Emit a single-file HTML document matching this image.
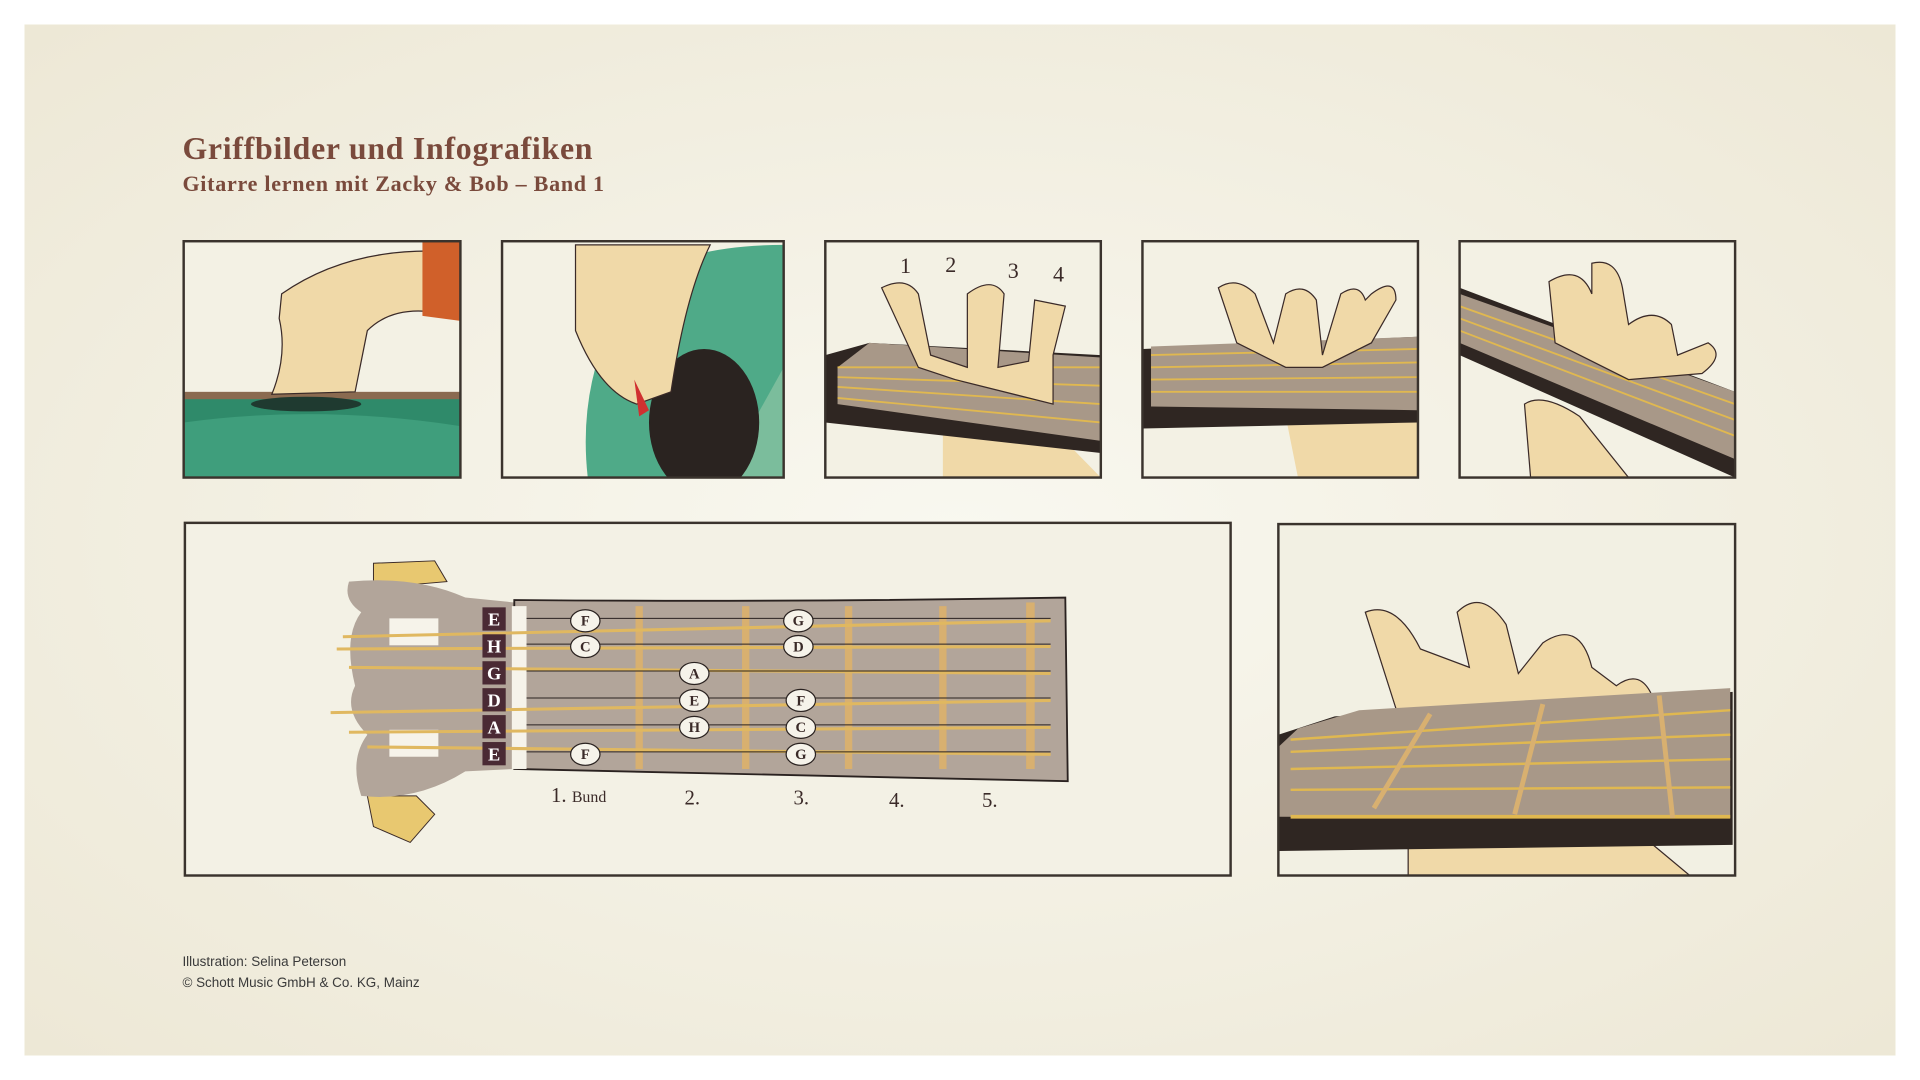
<!DOCTYPE html>
<html><head><meta charset="utf-8"><style>
html,body{margin:0;padding:0;width:1920px;height:1080px;background:#fff;overflow:hidden}
svg{display:block}
.t{font-family:"Liberation Serif",serif;fill:#7a4a3c}
.n{font-family:"Liberation Serif",serif;fill:#3a2a28;font-size:12px;text-anchor:middle;font-weight:bold}
.c{font-family:"Liberation Sans",sans-serif;fill:#3a3a3a;font-size:11px}
</style></head><body>
<svg width="1920" height="1080" viewBox="0 0 1568 882" xmlns="http://www.w3.org/2000/svg">
<defs>
<radialGradient id="bg" cx="0.5" cy="0.5" r="0.7">
<stop offset="0" stop-color="#f9f8f0"/><stop offset="1" stop-color="#ede8d6"/></radialGradient>
<clipPath id="p1"><rect x="150" y="197" width="226" height="193"/></clipPath>
<clipPath id="p2"><rect x="410" y="197" width="230" height="193"/></clipPath>
<clipPath id="p3"><rect x="674" y="197" width="225" height="193"/></clipPath>
<clipPath id="p4"><rect x="933" y="197" width="225" height="193"/></clipPath>
<clipPath id="p5"><rect x="1192" y="197" width="225" height="193"/></clipPath>
<clipPath id="p7"><rect x="1044" y="428" width="373" height="287"/></clipPath>
</defs>
<rect x="20" y="20" width="1528" height="842" fill="url(#bg)"/>
<text class="t" x="149" y="130" font-size="26" font-weight="bold" letter-spacing="0.6">Griffbilder und Infografiken</text>
<text class="t" x="149" y="156" font-size="18" font-weight="bold" letter-spacing="0.6">Gitarre lernen mit Zacky &amp; Bob – Band 1</text>

<!-- panel 1 -->
<g clip-path="url(#p1)">
<rect x="150" y="197" width="226" height="193" fill="#f3f1e4"/>
<path d="M150 322 L376 322 L376 390 L150 390Z" fill="#2f8a6a"/>
<path d="M150 345 Q260 330 376 348 L376 390 L150 390Z" fill="#3f9e7c"/>
<rect x="150" y="320" width="226" height="6" fill="#8a6a50"/>
<ellipse cx="250" cy="330" rx="45" ry="6" fill="#1f3a30"/>
<path d="M230 240 Q280 205 350 205 L355 255 Q320 250 300 270 L290 320 L222 322 Q235 290 228 260Z" fill="#f0d9a8" stroke="#3a2a28" stroke-width="1"/>
<path d="M345 197 L376 197 L376 262 L345 258Z" fill="#d0602a"/>
</g>
<rect x="150" y="197" width="226" height="193" fill="none" stroke="#3a332d" stroke-width="2"/>

<!-- panel 2 -->
<g clip-path="url(#p2)">
<rect x="410" y="197" width="230" height="193" fill="#f3f1e4"/>
<path d="M480 390 Q470 300 520 230 Q560 200 640 200 L640 390Z" fill="#4faa88"/>
<path d="M590 390 L640 300 L640 390Z" fill="#7bbd9c"/>
<ellipse cx="575" cy="345" rx="45" ry="60" fill="#2a2320"/>
<path d="M470 200 L580 200 Q560 240 548 320 L520 330 Q490 320 470 270Z" fill="#f0d9a8" stroke="#3a2a28" stroke-width="1"/>
<path d="M518 310 L530 335 L522 340Z" fill="#d03030"/>
</g>
<rect x="410" y="197" width="230" height="193" fill="none" stroke="#3a332d" stroke-width="2"/>

<!-- panel 3 -->
<g clip-path="url(#p3)">
<rect x="674" y="197" width="225" height="193" fill="#f3f1e4"/>
<path d="M770 340 Q800 330 860 350 L899 390 L770 390Z" fill="#f0d9a8"/>
<path d="M674 290 L710 280 L899 290 L899 370 L674 345Z" fill="#2f2622"/>
<path d="M684 300 L710 280 L899 292 L899 360 L684 330Z" fill="#a89888"/>
<g stroke="#e0b850" stroke-width="1.5"><line x1="684" y1="300" x2="899" y2="300"/><line x1="684" y1="308" x2="899" y2="315"/><line x1="684" y1="316" x2="899" y2="330"/><line x1="684" y1="325" x2="899" y2="345"/></g>
<path d="M720 235 Q740 225 750 240 L760 290 L790 300 L790 240 Q810 225 820 240 L815 300 L840 295 L845 245 L870 250 L860 290 L860 330 L780 310 L750 300 Z" fill="#f0d9a8" stroke="#3a2a28" stroke-width="1"/>
<text class="t" x="735" y="223" font-size="18" style="fill:#3a2a28">1</text>
<text class="t" x="772" y="222" font-size="18" style="fill:#3a2a28">2</text>
<text class="t" x="823" y="227" font-size="18" style="fill:#3a2a28">3</text>
<text class="t" x="860" y="230" font-size="18" style="fill:#3a2a28">4</text>
</g>
<rect x="674" y="197" width="225" height="193" fill="none" stroke="#3a332d" stroke-width="2"/>

<!-- panel 4 -->
<g clip-path="url(#p4)">
<rect x="933" y="197" width="225" height="193" fill="#f3f1e4"/>
<path d="M1050 340 L1158 345 L1158 390 L1060 390Z" fill="#f0d9a8"/>
<path d="M933 285 L1158 275 L1158 345 L933 350Z" fill="#2f2622"/>
<path d="M940 283 L1158 275 L1158 335 L940 332Z" fill="#a89888"/>
<g stroke="#e0b850" stroke-width="1.5"><line x1="940" y1="290" x2="1158" y2="285"/><line x1="940" y1="300" x2="1158" y2="296"/><line x1="940" y1="310" x2="1158" y2="308"/><line x1="940" y1="320" x2="1158" y2="320"/></g>
<path d="M995 235 Q1010 225 1025 240 L1040 280 L1050 240 Q1065 230 1075 245 L1080 290 L1095 240 Q1110 230 1115 245 L1120 240 Q1140 225 1140 245 L1120 280 L1080 300 L1050 300 L1010 280Z" fill="#f0d9a8" stroke="#3a2a28" stroke-width="1"/>
</g>
<rect x="933" y="197" width="225" height="193" fill="none" stroke="#3a332d" stroke-width="2"/>

<!-- panel 5 -->
<g clip-path="url(#p5)">
<rect x="1192" y="197" width="225" height="193" fill="#f3f1e4"/>
<path d="M1245 330 Q1260 320 1290 340 L1330 390 L1250 390Z" fill="#f0d9a8" stroke="#3a2a28" stroke-width="1"/>
<path d="M1192 235 L1417 320 L1417 390 L1192 290Z" fill="#2f2622"/>
<path d="M1192 240 L1417 320 L1417 375 L1192 280Z" fill="#a89888"/>
<g stroke="#e0b850" stroke-width="1.5"><line x1="1192" y1="250" x2="1417" y2="330"/><line x1="1192" y1="260" x2="1417" y2="343"/><line x1="1192" y1="270" x2="1417" y2="356"/></g>
<path d="M1265 230 Q1290 215 1300 240 L1300 215 Q1320 210 1325 235 L1330 265 Q1350 250 1365 265 L1370 290 L1395 280 Q1410 290 1390 305 L1330 310 L1270 280Z" fill="#f0d9a8" stroke="#3a2a28" stroke-width="1"/>
</g>
<rect x="1192" y="197" width="225" height="193" fill="none" stroke="#3a332d" stroke-width="2"/>

<!-- big diagram -->
<rect x="151" y="427" width="854" height="288" fill="#f3f1e5" stroke="#3a332d" stroke-width="2"/>
<path d="M305 460 L355 458 L365 475 L330 478 L305 475Z" fill="#e8c870" stroke="#3a2a28" stroke-width="0.8"/>
<path d="M300 650 L340 650 L355 665 L335 688 L305 675Z" fill="#e8c870" stroke="#3a2a28" stroke-width="0.8"/>
<path d="M285 475 Q340 470 380 488 L420 492 L420 628 L380 630 Q340 655 295 650 Q285 620 300 600 Q280 580 290 560 Q280 520 295 500 Q280 490 285 475Z" fill="#b2a59a"/>
<rect x="318" y="505" width="40" height="22" fill="#f6f3ea"/>
<rect x="318" y="596" width="40" height="22" fill="#f6f3ea"/>
<path d="M420 490 Q640 492 870 488 L872 638 L420 628Z" fill="#b2a59a" stroke="#2a2220" stroke-width="1.5"/>
<rect x="418" y="495" width="12" height="133" fill="#f6f3ea"/>
<g fill="#d8b070"><rect x="519" y="495" width="6" height="133"/><rect x="606" y="495" width="6" height="133"/><rect x="690" y="495" width="6" height="133"/><rect x="767" y="495" width="6" height="133"/><rect x="838" y="492" width="7" height="136"/></g>
<g stroke="#e0b860" stroke-width="2.5">
<line x1="280" y1="520" x2="858" y2="507"/><line x1="275" y1="530" x2="858" y2="528"/><line x1="285" y1="545" x2="858" y2="550"/><line x1="270" y1="582" x2="858" y2="572"/><line x1="285" y1="598" x2="858" y2="594"/><line x1="300" y1="610" x2="858" y2="616"/></g>
<g stroke="#2a2220" stroke-width="0.8">
<line x1="430" y1="505" x2="858" y2="505"/><line x1="430" y1="526" x2="858" y2="526"/><line x1="430" y1="548" x2="858" y2="548"/><line x1="430" y1="570" x2="858" y2="570"/><line x1="430" y1="592" x2="858" y2="592"/><line x1="430" y1="614" x2="858" y2="614"/></g>
<g fill="#4a2a34"><rect x="394" y="496" width="19" height="19"/><rect x="394" y="518" width="19" height="19"/><rect x="394" y="540" width="19" height="19"/><rect x="394" y="562" width="19" height="19"/><rect x="394" y="584" width="19" height="19"/><rect x="394" y="606" width="19" height="19"/></g>
<g font-family="Liberation Serif,serif" font-weight="bold" font-size="15" fill="#fff" text-anchor="middle">
<text x="403.5" y="511">E</text><text x="403.5" y="533">H</text><text x="403.5" y="555">G</text><text x="403.5" y="577">D</text><text x="403.5" y="599">A</text><text x="403.5" y="621">E</text></g>
<g fill="#f6f3ea" stroke="#2a2220" stroke-width="1">
<ellipse cx="478" cy="507" rx="12" ry="9"/><ellipse cx="652" cy="507" rx="12" ry="9"/>
<ellipse cx="478" cy="528" rx="12" ry="9"/><ellipse cx="652" cy="528" rx="12" ry="9"/>
<ellipse cx="567" cy="550" rx="12" ry="9"/>
<ellipse cx="567" cy="572" rx="12" ry="9"/><ellipse cx="654" cy="572" rx="12" ry="9"/>
<ellipse cx="567" cy="594" rx="12" ry="9"/><ellipse cx="654" cy="594" rx="12" ry="9"/>
<ellipse cx="478" cy="616" rx="12" ry="9"/><ellipse cx="654" cy="616" rx="12" ry="9"/></g>
<g class="n">
<text x="478" y="511">F</text><text x="652" y="511">G</text><text x="478" y="532">C</text><text x="652" y="532">D</text>
<text x="567" y="554">A</text><text x="567" y="576">E</text><text x="654" y="576">F</text>
<text x="567" y="598">H</text><text x="654" y="598">C</text><text x="478" y="620">F</text><text x="654" y="620">G</text></g>
<g font-family="Liberation Serif,serif" fill="#3a2a28" font-size="17">
<text x="450" y="655">1.</text><text x="467" y="655" font-size="13">Bund</text>
<text x="559" y="657">2.</text><text x="648" y="657">3.</text><text x="726" y="659">4.</text><text x="802" y="659">5.</text></g>

<!-- panel 7 -->
<g clip-path="url(#p7)">
<rect x="1044" y="428" width="373" height="287" fill="#f2f0e3"/>
<path d="M1150 690 L1350 690 L1380 715 L1150 715Z" fill="#f0d9a8" stroke="#3a2a28" stroke-width="1"/>
<path d="M1115 500 Q1140 490 1160 530 L1200 545 L1190 500 Q1210 480 1230 510 L1240 550 L1260 525 Q1290 505 1300 545 L1320 560 Q1340 545 1350 570 L1320 610 L1150 610Z" fill="#f0d9a8" stroke="#3a2a28" stroke-width="1"/>
<path d="M1044 600 L1090 585 L1415 565 L1415 690 L1044 695Z" fill="#2f2622"/>
<path d="M1060 595 L1110 580 L1413 562 L1413 668 L1044 667 L1044 610Z" fill="#a89888"/>
<g stroke="#e0b850" stroke-width="2"><line x1="1054" y1="604" x2="1413" y2="580"/><line x1="1054" y1="614" x2="1413" y2="600"/><line x1="1054" y1="628" x2="1413" y2="620"/><line x1="1054" y1="645" x2="1413" y2="643"/><line x1="1054" y1="667" x2="1413" y2="667" stroke-width="3"/></g>
<g stroke="#d8b070" stroke-width="4"><line x1="1168" y1="583" x2="1122" y2="660"/><line x1="1260" y1="575" x2="1237" y2="665"/><line x1="1355" y1="568" x2="1366" y2="668"/></g>
</g>
<rect x="1044" y="428" width="373" height="287" fill="none" stroke="#3a332d" stroke-width="2"/>

<text class="c" x="149" y="789">Illustration: Selina Peterson</text>
<text class="c" x="149" y="806">© Schott Music GmbH &amp; Co. KG, Mainz</text>
</svg>
</body></html>
